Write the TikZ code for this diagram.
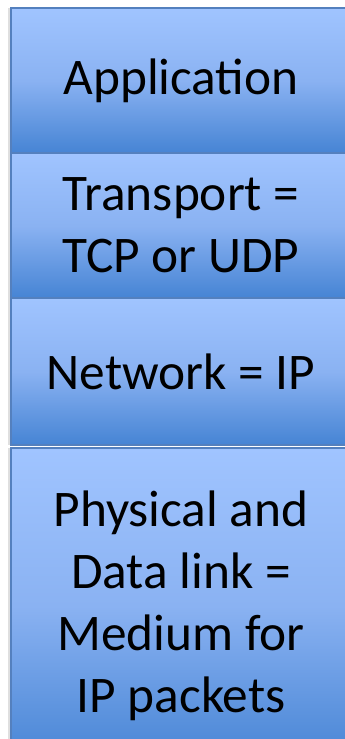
\documentclass[tikz,border=0pt]{standalone}
\usepackage{fontspec}
\setmainfont{Carlito}
\usetikzlibrary{shadows}

\definecolor{layertop}{RGB}{160,196,255}
\definecolor{layermid}{RGB}{138,178,242}
\definecolor{layerbot}{RGB}{70,132,212}
\definecolor{layerline}{RGB}{84,128,190}

\tikzset{every picture/.style={line width=0.75pt}}
\tikzset{
	layer/.style={draw=layerline, line width=0.8pt, rectangle, minimum width=255pt,
		top color=layertop, bottom color=layerbot, middle color=layermid,
		align=center, font=\fontsize{38.5}{46.5}\selectfont,
		drop shadow={shadow xshift=-2pt, shadow yshift=0pt, opacity=0.25, fill=gray}}
}

\begin{document}
\begin{tikzpicture}[x=0.75pt,y=0.75pt,yscale=-1,xscale=1]
	\useasboundingbox (0,0) rectangle (344,739);
	\fill[white] (0,0) rectangle (344,739);

	% Physical and data link
	\node [layer, minimum height=237pt] (phys) at (181,606) {Physical and\\Data link =\\Medium for\\IP packets};
	% Network
	\node [layer, minimum height=110.25pt] (net) at (181,371.5) {Network = IP};
	% Transport
	\node [layer, minimum height=108.75pt] (trans) at (181,225.5) {Transport =\\TCP or UDP};
	% Application
	\node [layer, minimum height=108.75pt] (app) at (181,80.5) {Application};

\end{tikzpicture}
\end{document}
